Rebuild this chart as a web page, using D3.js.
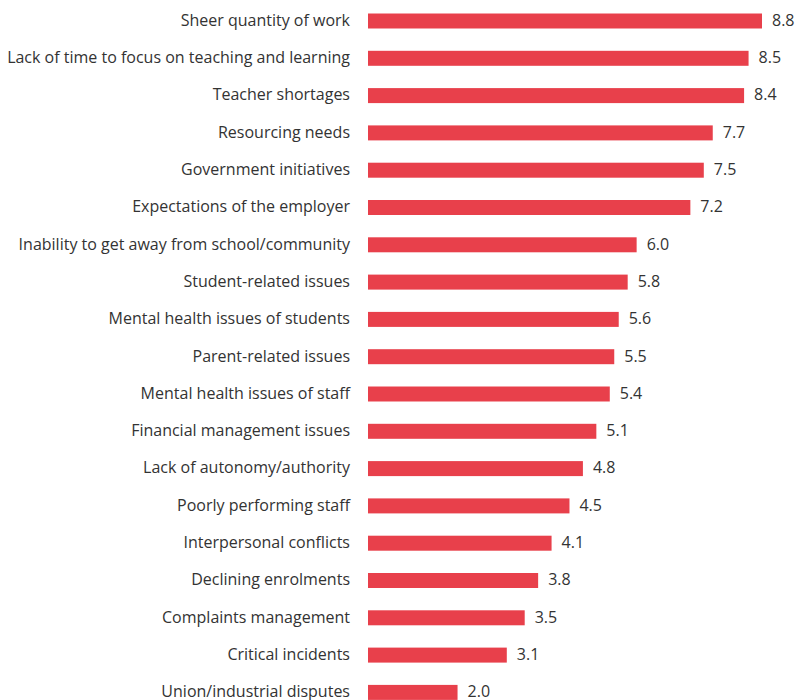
<!DOCTYPE html>
<html>
<head>
<meta charset="utf-8">
<script src="https://cdn.jsdelivr.net/npm/d3@7"></script>
<style>
  html, body { margin: 0; padding: 0; background: #ffffff; }
  svg { display: block; }
  text { font-family: "Open Sans", sans-serif; fill: #333333; }
</style>
</head>
<body>
<svg id="chart" width="796" height="700"></svg>
<script>
const categories = [
  "Sheer quantity of work",
  "Lack of time to focus on teaching and learning",
  "Teacher shortages",
  "Resourcing needs",
  "Government initiatives",
  "Expectations of the employer",
  "Inability to get away from school/community",
  "Student-related issues",
  "Mental health issues of students",
  "Parent-related issues",
  "Mental health issues of staff",
  "Financial management issues",
  "Lack of autonomy/authority",
  "Poorly performing staff",
  "Interpersonal conflicts",
  "Declining enrolments",
  "Complaints management",
  "Critical incidents",
  "Union/industrial disputes"
];
const values = [8.8, 8.5, 8.4, 7.7, 7.5, 7.2, 6.0, 5.8, 5.6, 5.5, 5.4, 5.1, 4.8, 4.5, 4.1, 3.8, 3.5, 3.1, 2.0];

const svg = d3.select("#chart");
const x0 = 368;
const x = d3.scaleLinear().domain([0, 8.8]).range([x0, 762]);
const y = d3.scaleBand().domain(categories).range([2.35, 2.35 + 19 * 37.3])
  .paddingInner(0.598).paddingOuter(0.299);

const data = categories.map((c, i) => ({ c, v: values[i] }));

svg.selectAll("rect.bar").data(data).join("rect")
  .attr("class", "bar")
  .attr("x", x(0))
  .attr("y", d => y(d.c))
  .attr("width", d => x(d.v) - x(0))
  .attr("height", y.bandwidth())
  .attr("fill", "#e8404b");

svg.selectAll("text.cat").data(data).join("text")
  .attr("class", "cat")
  .attr("x", x0 - 18)
  .attr("y", d => y(d.c) + y.bandwidth() / 2)
  .attr("dy", "0.3em")
  .attr("text-anchor", "end")
  .attr("font-size", 16)
  .text(d => d.c);

svg.selectAll("text.val").data(data).join("text")
  .attr("class", "val")
  .attr("x", d => x(d.v) + 10)
  .attr("y", d => y(d.c) + y.bandwidth() / 2)
  .attr("dy", "0.3em")
  .attr("font-size", 16)
  .text(d => d3.format(".1f")(d.v));
</script>
</body>
</html>
